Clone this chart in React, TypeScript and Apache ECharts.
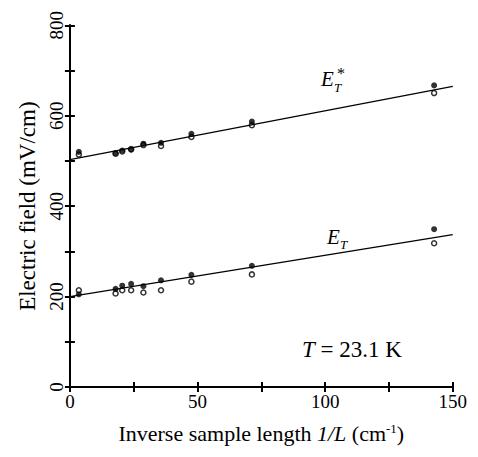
import React, { useEffect, useRef } from "react";
import * as echarts from "echarts";

const xInv = [3.5, 17.9, 20.5, 24, 28.8, 35.7, 47.6, 71.3, 142.7];
const etStarFilled = [520, 517, 523, 525, 538, 540, 560, 587, 667];
const etStarOpen = [514, 516, 521, 526, 535, 533, 553, 579, 650];
const etFilled = [205, 217, 224, 228, 223, 236, 248, 268, 349];
const etOpen = [214, 207, 214, 214, 209, 214, 233, 249, 318];
const fitStar = [[0, 503], [150, 665]];
const fitEt = [[0, 200], [150, 337]];

const SERIF = "Liberation Serif";

function pairs(xs: number[], ys: number[]) {
  return xs.map((x, i) => [x, ys[i]]);
}

export default function App() {
  const ref = useRef<HTMLDivElement>(null);
  useEffect(() => {
    if (!ref.current) return;
    const chart = echarts.init(ref.current, undefined, { renderer: "svg" });
    const axisLine = { show: true, lineStyle: { color: "#000", width: 2 } };
    const tick = { show: true, inside: true, length: 5, lineStyle: { color: "#000", width: 2 } };
    chart.setOption({
      animation: false,
      backgroundColor: "#fff",
      grid: { left: 56, right: 15, top: 4, bottom: 46, containLabel: false },
      xAxis: [
        {
          type: "value",
          min: 0,
          max: 150,
          interval: 25,
          axisLine,
          axisTick: tick,
          splitLine: { show: false },
          axisLabel: {
            color: "#000",
            fontFamily: SERIF,
            fontSize: 19,
            margin: 5,
            formatter: (v: number) => (v % 50 === 0 ? String(v) : ""),
          },
          name: "{n|Inverse sample length }{i|1/L}{n| (cm}{s|-1}{n|)}",
          nameLocation: "middle",
          nameGap: 35,
          nameTextStyle: {
            rich: {
              n: { fontFamily: SERIF, fontSize: 22, color: "#000" },
              i: { fontFamily: SERIF, fontSize: 22, color: "#000", fontStyle: "italic" },
              s: { fontFamily: SERIF, fontSize: 13, color: "#000", padding: [0, 0, 9, 0] },
            },
          },
        },
        {
          type: "value",
          position: "top",
          min: 0,
          max: 150,
          interval: 25,
          axisLine,
          axisTick: tick,
          splitLine: { show: false },
          axisLabel: { show: false },
        },
      ],
      yAxis: [
        {
          type: "value",
          min: 0,
          max: 800,
          interval: 100,
          axisLine,
          axisTick: tick,
          splitLine: { show: false },
          axisLabel: {
            color: "#000",
            fontFamily: SERIF,
            fontSize: 19,
            rotate: 90,
            margin: 4,
            formatter: (v: number) => (v % 200 === 0 ? String(v) : ""),
          },
          name: "Electric field (mV/cm)",
          nameLocation: "middle",
          nameRotate: 90,
          nameGap: 30,
          nameTextStyle: { fontFamily: SERIF, fontSize: 23, color: "#000" },
        },
        {
          type: "value",
          position: "right",
          min: 0,
          max: 800,
          interval: 100,
          axisLine,
          axisTick: tick,
          splitLine: { show: false },
          axisLabel: { show: false },
        },
      ],
      series: [
        {
          type: "line",
          data: fitStar,
          symbol: "none",
          lineStyle: { color: "#000", width: 1.2 },
        },
        {
          type: "line",
          data: fitEt,
          symbol: "none",
          lineStyle: { color: "#000", width: 1.2 },
        },
        {
          type: "scatter",
          data: pairs(xInv, etStarOpen),
          symbol: "circle",
          symbolSize: 5,
          itemStyle: { color: "#fff", borderColor: "#000", borderWidth: 1.5 },
        },
        {
          type: "scatter",
          data: pairs(xInv, etOpen),
          symbol: "circle",
          symbolSize: 5,
          itemStyle: { color: "#fff", borderColor: "#000", borderWidth: 1.5 },
        },
        {
          type: "scatter",
          data: pairs(xInv, etStarFilled),
          symbol: "circle",
          symbolSize: 6,
          itemStyle: { color: "#000" },
        },
        {
          type: "scatter",
          data: pairs(xInv, etFilled),
          symbol: "circle",
          symbolSize: 6,
          itemStyle: { color: "#000" },
        },
      ],
      graphic: [
        { type: "text", left: 313, top: 60, style: { text: "E", fontFamily: SERIF, fontStyle: "italic", fontSize: 21, fill: "#000" } },
        { type: "text", left: 326, top: 73, style: { text: "T", fontFamily: SERIF, fontStyle: "italic", fontSize: 13, fill: "#000" } },
        { type: "text", left: 329, top: 57, style: { text: "*", fontFamily: SERIF, fontSize: 16, fill: "#000" } },
        { type: "text", left: 319, top: 218, style: { text: "E", fontFamily: SERIF, fontStyle: "italic", fontSize: 21, fill: "#000" } },
        { type: "text", left: 332, top: 230, style: { text: "T", fontFamily: SERIF, fontStyle: "italic", fontSize: 13, fill: "#000" } },
        {
          type: "text",
          left: 294,
          top: 330,
          style: {
            text: "{i|T}{n| = 23.1 K}",
            rich: {
              i: { fontFamily: SERIF, fontStyle: "italic", fontSize: 23, fill: "#000" },
              n: { fontFamily: SERIF, fontSize: 23, fill: "#000" },
            },
          },
        },
      ],
    });
    return () => chart.dispose();
  }, []);
  return <div ref={ref} style={{ width: 462, height: 441 }} />;
}
